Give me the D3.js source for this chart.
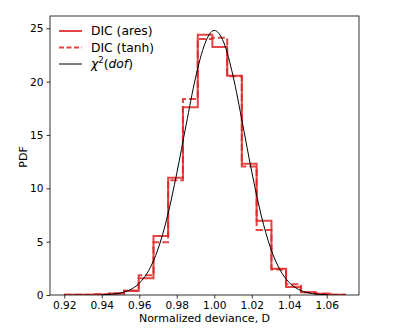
<!DOCTYPE html>
<html><head><meta charset="utf-8">
<script src="https://cdn.jsdelivr.net/npm/d3@7"></script>
<style>body{margin:0;background:#fff}svg{display:block}text{font-family:"DejaVu Sans",sans-serif;fill:#000}</style>
</head><body>
<script>
// Histogram bin edges (normalized deviance)
const binEdges = [0.9204,0.9283,0.9361,0.9440,0.9519,0.9597,0.9676,0.9754,0.9833,0.9912,0.9990,1.0069,1.0147,1.0226,1.0305,1.0383,1.0462,1.0540,1.0619,1.0697];
const aresPDF = [0.02,0.02,0.05,0.15,0.37,1.56,5.53,11.0,17.6,24.4,23.25,20.55,12.3,6.95,2.47,0.75,0.25,0.12,0.03];
const tanhPDF = [0.02,0.02,0.06,0.13,0.42,1.85,4.94,10.75,18.37,24.0,24.1,20.5,12.05,6.1,2.4,1.0,0.25,0.12,0.03];
// chi^2(dof) curve
const chiX = [0.94,0.945,0.95,0.955,0.96,0.965,0.97,0.975,0.98,0.985,0.99,0.995,1.0,1.005,1.01,1.015,1.02,1.025,1.03,1.035,1.04,1.045,1.05,1.055,1.06];
const chiY = [0.02,0.07,0.19,0.48,1.10,2.28,4.30,7.35,11.40,15.95,20.35,23.55,24.8,23.70,20.55,16.15,11.55,7.50,4.42,2.38,1.16,0.52,0.21,0.08,0.03];
const xTicks = [0.92,0.94,0.96,0.98,1.00,1.02,1.04,1.06];
const yTicks = [0,5,10,15,20,25];
const legendLabels = ["DIC (ares)","DIC (tanh)"];

const W=399,H=332;
const m={l:50,t:16,r:359,b:295};
const svg=d3.select("body").append("svg").attr("width",W).attr("height",H);
const x=d3.scaleLinear().domain([0.9124,1.0772]).range([m.l,m.r]);
const y=d3.scaleLinear().domain([0,26.15]).range([m.b,m.t]);

svg.append("clipPath").attr("id","c").append("rect").attr("x",m.l).attr("y",m.t).attr("width",m.r-m.l).attr("height",m.b-m.t);
const g=svg.append("g").attr("clip-path","url(#c)");

function stepPath(vals){
  let p=[[binEdges[0],0]];
  vals.forEach((v,i)=>{p.push([binEdges[i],v]);p.push([binEdges[i+1],v]);});
  p.push([binEdges[binEdges.length-1],0]);
  return d3.line().x(d=>x(d[0])).y(d=>y(d[1]))(p);
}
const red="#e02424";
g.append("path").attr("d",stepPath(aresPDF)).attr("fill","none").attr("stroke",red).attr("stroke-width",2).attr("opacity",0.85);
g.append("path").attr("d",stepPath(tanhPDF)).attr("fill","none").attr("stroke",red).attr("stroke-width",2).attr("stroke-dasharray","7,3").attr("opacity",0.85);
g.append("path").attr("d",d3.line().curve(d3.curveMonotoneX).x((d,i)=>x(chiX[i])).y(d=>y(d))(chiY))
  .attr("fill","none").attr("stroke","#000").attr("stroke-width",1);

// axes
const xa=svg.append("g").attr("transform",`translate(0,${m.b})`).call(d3.axisBottom(x).tickValues(xTicks).tickFormat(d3.format(".2f")).tickSize(3.5).tickPadding(3));
const ya=svg.append("g").attr("transform",`translate(${m.l},0)`).call(d3.axisLeft(y).tickValues(yTicks).tickSize(3.5).tickPadding(3));
[xa,ya].forEach(a=>{a.select(".domain").remove();a.selectAll("text").style("font-family","DejaVu Sans").style("font-size","10.6px").attr("fill","#000");a.selectAll("line").attr("stroke","#000").attr("stroke-width",0.8);});
svg.append("rect").attr("x",m.l).attr("y",m.t).attr("width",m.r-m.l).attr("height",m.b-m.t).attr("fill","none").attr("stroke","#000").attr("stroke-width",0.8);

svg.append("text").attr("x",(m.l+m.r)/2).attr("y",322).attr("text-anchor","middle").style("font-size","11px").text("Normalized deviance, D");
svg.append("text").attr("transform","translate(27,157) rotate(-90)").attr("text-anchor","middle").style("font-size","11px").text("PDF");

// legend
const lg=svg.append("g");
const ly=[31,47.5,64];
lg.append("line").attr("x1",59).attr("x2",82).attr("y1",ly[0]).attr("y2",ly[0]).attr("stroke",red).attr("stroke-width",2).attr("opacity",0.85);
lg.append("line").attr("x1",59).attr("x2",82).attr("y1",ly[1]).attr("y2",ly[1]).attr("stroke",red).attr("stroke-width",2).attr("stroke-dasharray","5,2.5").attr("opacity",0.85);
lg.append("line").attr("x1",59).attr("x2",82).attr("y1",ly[2]).attr("y2",ly[2]).attr("stroke","#000").attr("stroke-width",1);
legendLabels.forEach((t,i)=>lg.append("text").attr("x",91).attr("y",ly[i]+4.3).style("font-size","12.3px").text(t));
const t3=lg.append("text").attr("x",91).attr("y",ly[2]+4.3).style("font-size","12.3px");
t3.append("tspan").style("font-style","italic").text("χ");
t3.append("tspan").attr("dy",-5).style("font-size","8.5px").text("2");
t3.append("tspan").attr("dy",5).text("(");
t3.append("tspan").style("font-style","italic").text("dof");
t3.append("tspan").text(")");
</script>
</body></html>
